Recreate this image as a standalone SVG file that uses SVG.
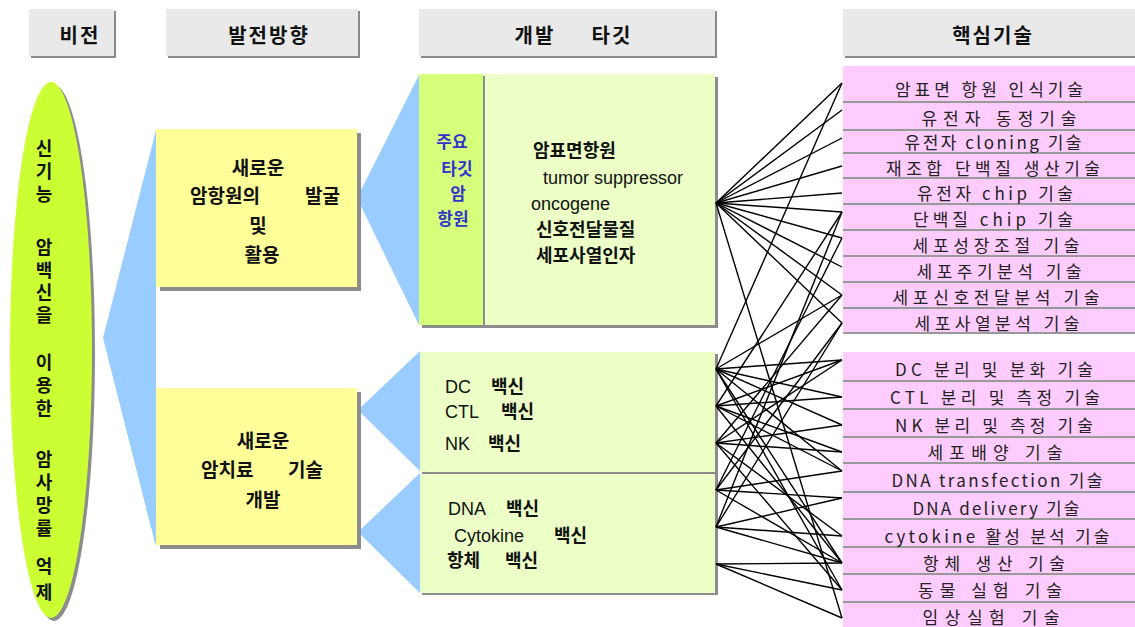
<svg xmlns="http://www.w3.org/2000/svg" width="1135" height="627" viewBox="0 0 1135 627">
<style>
.hdr{fill:#e9e9e9}
.hsh{fill:#8a8a8a}
.ht{font-family:"Noto Sans CJK KR","Liberation Sans",sans-serif;font-size:20px;font-weight:bold;fill:#111;text-anchor:middle;letter-spacing:2px}
.blue{fill:#99ccff}
.ybox{fill:#ffff99}
.sh{fill:#8c8c8c}
.kb{font-family:"Noto Sans CJK KR","Liberation Sans",sans-serif;font-size:19px;font-weight:bold;fill:#111}
.vt{font-family:"Noto Sans CJK KR","Liberation Sans",sans-serif;font-size:18px;font-weight:bold;fill:#111;writing-mode:vertical-rl;text-orientation:upright;letter-spacing:5px}
.mid{font-family:"Liberation Sans","Noto Sans CJK KR",sans-serif;font-size:18px;fill:#111}
.mk{font-family:"Noto Sans CJK KR","Liberation Sans",sans-serif;font-weight:bold}
.strip{font-family:"Noto Sans CJK KR","Liberation Sans",sans-serif;font-size:17px;font-weight:bold;fill:#3333cc;text-anchor:middle}
.pink{fill:#ffccff}
.sep{stroke:#999;stroke-width:2}
.lt{font-family:"Noto Sans CJK KR","Liberation Sans",sans-serif;font-size:17px;fill:#222;text-anchor:middle}
.lgr{fill:#ebffc6}
.cn line{stroke:#000;stroke-width:1.4}
</style>

<!-- headers -->
<g id="hdr-vision">
<rect class="hsh" x="31" y="11" width="85" height="47"/>
<rect class="hdr" x="29" y="9" width="85" height="47"/>
<text class="ht" x="80" y="43">비전</text>
</g>
<g id="hdr-direction">
<rect class="hsh" x="168" y="11" width="192" height="47"/>
<rect class="hdr" x="166" y="9" width="192" height="47"/>
<text class="ht" x="269" y="43">발전방향</text>
</g>
<g id="hdr-target">
<rect class="hsh" x="421" y="11" width="296" height="47"/>
<rect class="hdr" x="419" y="9" width="296" height="47"/>
<text class="ht" y="43"><tspan x="535">개발</tspan><tspan x="612">타깃</tspan></text>
</g>
<g id="hdr-tech">
<rect class="hsh" x="845" y="11" width="292" height="47"/>
<rect class="hdr" x="843" y="9" width="292" height="47"/>
<text class="ht" x="993" y="43">핵심기술</text>
</g>

<!-- blue fans -->
<g id="fans">
<polygon class="blue" points="103,338 156,130 156,547"/>
<polygon class="blue" points="357,198 419,75 419,325"/>
<polygon class="blue" points="358,410 420,351 420,471"/>
<polygon class="blue" points="358,532 420,473 420,593"/>
</g>

<!-- vision ellipse -->
<g id="vision">
<ellipse cx="54" cy="353" rx="41" ry="268" fill="#8c8c8c"/>
<ellipse cx="51" cy="350" rx="41" ry="268" fill="#ccff33"/>
<text class="vt" x="44" y="139">신기능</text>
<text class="vt" x="44" y="238" style="letter-spacing:4.7px">암백신을</text>
<text class="vt" x="44" y="353">이용한</text>
<text class="vt" x="44" y="450">암사망률</text>
<text class="vt" x="44" y="557" style="letter-spacing:8px">억제</text>
</g>

<!-- direction boxes -->
<g id="dir1">
<rect class="sh" x="160" y="133" width="201" height="158"/>
<rect class="ybox" x="156" y="129" width="201" height="158"/>
<text class="kb" text-anchor="middle"><tspan x="258" y="175">새로운</tspan></text>
<text class="kb"><tspan x="190" y="203">암항원의</tspan><tspan x="305" y="203">발굴</tspan></text>
<text class="kb" text-anchor="middle"><tspan x="258" y="233">및</tspan><tspan x="262" y="262">활용</tspan></text>
</g>
<g id="dir2">
<rect class="sh" x="160" y="392" width="201" height="157"/>
<rect class="ybox" x="156" y="388" width="201" height="157"/>
<text class="kb" text-anchor="middle"><tspan x="263" y="448">새로운</tspan></text>
<text class="kb"><tspan x="201" y="477">암치료</tspan><tspan x="288" y="477">기술</tspan></text>
<text class="kb" text-anchor="middle"><tspan x="263" y="507">개발</tspan></text>
</g>

<!-- target boxes -->
<g id="target-antigen">
<rect class="sh" x="422" y="77" width="296" height="251"/>
<rect x="483" y="74" width="232" height="251" class="lgr"/>
<rect x="419" y="74" width="64" height="251" fill="#d6ff7c"/>
<rect x="483" y="76" width="2" height="251" fill="#8c8c8c"/>
<text class="strip"><tspan x="452" y="148">주요</tspan><tspan x="457" y="175">타깃</tspan><tspan x="458" y="200">암</tspan><tspan x="453" y="225">항원</tspan></text>
<text class="mid"><tspan class="mk" x="533" y="157">암표면항원</tspan><tspan x="543" y="184">tumor suppressor</tspan><tspan x="531" y="210">oncogene</tspan><tspan class="mk" x="536" y="236">신호전달물질</tspan><tspan class="mk" x="536" y="262">세포사열인자</tspan></text>
</g>
<g id="target-cell">
<rect class="sh" x="422" y="354" width="296" height="121"/>
<rect class="lgr" x="420" y="352" width="295" height="120"/>
<text class="mid"><tspan x="445" y="393">DC</tspan><tspan class="mk" x="491" y="393">백신</tspan></text>
<text class="mid"><tspan x="445" y="418">CTL</tspan><tspan class="mk" x="501" y="418">백신</tspan></text>
<text class="mid"><tspan x="445" y="450">NK</tspan><tspan class="mk" x="488" y="450">백신</tspan></text>
</g>
<g id="target-gene">
<rect class="sh" x="422" y="474" width="296" height="121"/>
<rect class="lgr" x="420" y="474" width="295" height="119"/>
<text class="mid"><tspan x="448" y="515">DNA</tspan><tspan class="mk" x="506" y="515">백신</tspan></text>
<text class="mid"><tspan x="454" y="542">Cytokine</tspan><tspan class="mk" x="554" y="542">백신</tspan></text>
<text class="mid"><tspan class="mk" x="447" y="567">항체</tspan><tspan class="mk" x="505" y="567">백신</tspan></text>
</g>

<!-- tech list 1 -->
<g id="tech-list-1">
<rect class="pink" x="843" y="66" width="292" height="267"/>
<line class="sep" x1="843" y1="102" x2="1135" y2="102"/>
<line class="sep" x1="843" y1="130" x2="1135" y2="130"/>
<line class="sep" x1="843" y1="153" x2="1135" y2="153"/>
<line class="sep" x1="843" y1="178" x2="1135" y2="178"/>
<line class="sep" x1="843" y1="204" x2="1135" y2="204"/>
<line class="sep" x1="843" y1="230" x2="1135" y2="230"/>
<line class="sep" x1="843" y1="256" x2="1135" y2="256"/>
<line class="sep" x1="843" y1="282" x2="1135" y2="282"/>
<line class="sep" x1="843" y1="308" x2="1135" y2="308"/>
<line class="sep" x1="843" y1="333" x2="1135" y2="333"/>
<text class="lt" x="989" y="96" textLength="188" lengthAdjust="spacing">암표면 항원 인식기술</text>
<text class="lt" x="999" y="125" textLength="155" lengthAdjust="spacing">유전자 동정기술</text>
<text class="lt" x="993" y="149" textLength="177" lengthAdjust="spacing">유전자 cloning 기술</text>
<text class="lt" x="993" y="175" textLength="214" lengthAdjust="spacing">재조합 단백질 생산기술</text>
<text class="lt" x="995" y="200" textLength="156" lengthAdjust="spacing">유전자 chip 기술</text>
<text class="lt" x="993" y="226" textLength="160" lengthAdjust="spacing">단백질 chip 기술</text>
<text class="lt" x="996" y="252" textLength="167" lengthAdjust="spacing">세포성장조절 기술</text>
<text class="lt" x="999" y="278" textLength="165" lengthAdjust="spacing">세포주기분석 기술</text>
<text class="lt" x="996" y="304" textLength="207" lengthAdjust="spacing">세포신호전달분석 기술</text>
<text class="lt" x="997" y="330" textLength="165" lengthAdjust="spacing">세포사열분석 기술</text>
</g>

<!-- tech list 2 -->
<g id="tech-list-2">
<rect class="pink" x="843" y="352" width="292" height="275"/>
<line class="sep" x1="843" y1="381" x2="1135" y2="381"/>
<line class="sep" x1="843" y1="409" x2="1135" y2="409"/>
<line class="sep" x1="843" y1="437" x2="1135" y2="437"/>
<line class="sep" x1="843" y1="463" x2="1135" y2="463"/>
<line class="sep" x1="843" y1="492" x2="1135" y2="492"/>
<line class="sep" x1="843" y1="519" x2="1135" y2="519"/>
<line class="sep" x1="843" y1="547" x2="1135" y2="547"/>
<line class="sep" x1="843" y1="574" x2="1135" y2="574"/>
<line class="sep" x1="843" y1="602" x2="1135" y2="602"/>
<text class="lt" x="994" y="376" textLength="198" lengthAdjust="spacing">DC 분리 및 분화 기술</text>
<text class="lt" x="995" y="404" textLength="210" lengthAdjust="spacing">CTL 분리 및 측정 기술</text>
<text class="lt" x="994" y="432" textLength="198" lengthAdjust="spacing">NK 분리 및 측정 기술</text>
<text class="lt" x="995" y="459" textLength="135" lengthAdjust="spacing">세포배양 기술</text>
<text class="lt" x="997" y="487" textLength="211" lengthAdjust="spacing">DNA transfection 기술</text>
<text class="lt" x="996" y="515" textLength="167" lengthAdjust="spacing">DNA delivery 기술</text>
<text class="lt" x="997" y="543" textLength="225" lengthAdjust="spacing">cytokine 활성 분석 기술</text>
<text class="lt" x="994" y="570" textLength="142" lengthAdjust="spacing">항체 생산 기술</text>
<text class="lt" x="990" y="597" textLength="144" lengthAdjust="spacing">동물 실험 기술</text>
<text class="lt" x="991" y="624" textLength="137" lengthAdjust="spacing">임상실험 기술</text>
</g>

<!-- connectors -->
<g id="connectors" class="cn">
<line x1="716" y1="203" x2="842" y2="83"/>
<line x1="716" y1="203" x2="842" y2="110"/>
<line x1="716" y1="203" x2="842" y2="138"/>
<line x1="716" y1="203" x2="842" y2="166"/>
<line x1="716" y1="203" x2="842" y2="193"/>
<line x1="716" y1="203" x2="842" y2="212"/>
<line x1="716" y1="203" x2="842" y2="238"/>
<line x1="716" y1="203" x2="842" y2="267"/>
<line x1="716" y1="203" x2="842" y2="295"/>
<line x1="716" y1="203" x2="842" y2="323"/>
<line x1="716" y1="203" x2="842" y2="618"/>

<line x1="716" y1="369" x2="842" y2="83"/>
<line x1="716" y1="369" x2="842" y2="295"/>
<line x1="716" y1="369" x2="842" y2="360"/>
<line x1="716" y1="369" x2="842" y2="397"/>
<line x1="716" y1="369" x2="842" y2="425"/>
<line x1="716" y1="369" x2="842" y2="471"/>
<line x1="716" y1="369" x2="842" y2="563"/>
<line x1="716" y1="369" x2="842" y2="590"/>

<line x1="716" y1="406" x2="842" y2="212"/>
<line x1="716" y1="406" x2="842" y2="360"/>
<line x1="716" y1="406" x2="842" y2="397"/>
<line x1="716" y1="406" x2="842" y2="452"/>
<line x1="716" y1="406" x2="842" y2="471"/>
<line x1="716" y1="406" x2="842" y2="563"/>

<line x1="716" y1="443" x2="842" y2="295"/>
<line x1="716" y1="443" x2="842" y2="360"/>
<line x1="716" y1="443" x2="842" y2="425"/>
<line x1="716" y1="443" x2="842" y2="452"/>
<line x1="716" y1="443" x2="842" y2="536"/>
<line x1="716" y1="443" x2="842" y2="590"/>

<line x1="716" y1="490" x2="842" y2="238"/>
<line x1="716" y1="490" x2="842" y2="323"/>
<line x1="716" y1="490" x2="842" y2="471"/>
<line x1="716" y1="490" x2="842" y2="498"/>
<line x1="716" y1="490" x2="842" y2="563"/>

<line x1="716" y1="527" x2="842" y2="212"/>
<line x1="716" y1="527" x2="842" y2="323"/>
<line x1="716" y1="527" x2="842" y2="498"/>
<line x1="716" y1="527" x2="842" y2="536"/>
<line x1="716" y1="527" x2="842" y2="563"/>

<line x1="716" y1="564" x2="842" y2="563"/>
<line x1="716" y1="564" x2="842" y2="590"/>
<line x1="716" y1="564" x2="842" y2="618"/>
</g>
</svg>
